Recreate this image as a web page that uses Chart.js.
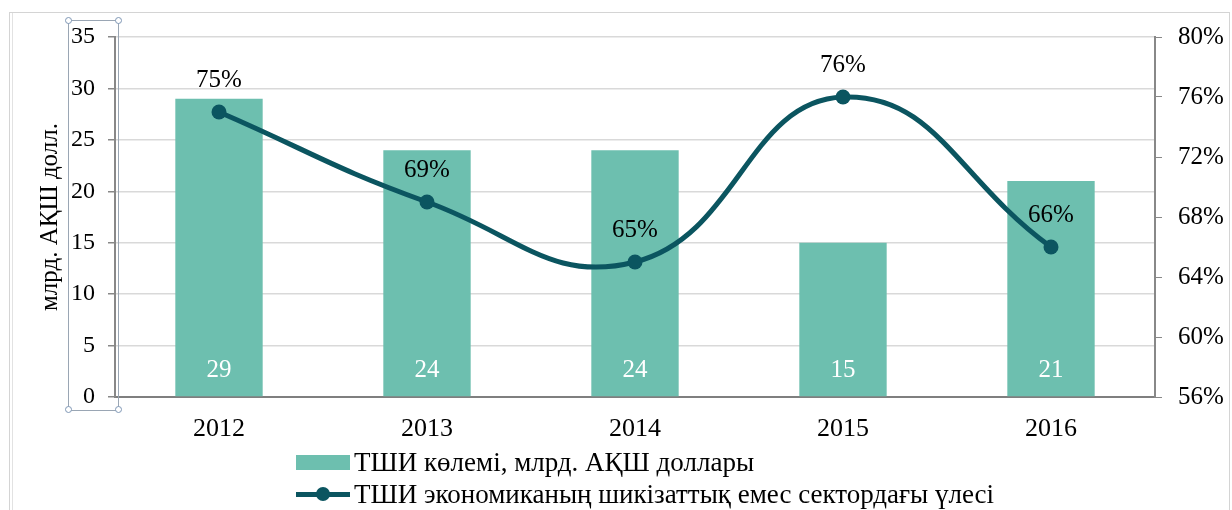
<!DOCTYPE html>
<html>
<head>
<meta charset="utf-8">
<script src="https://cdn.jsdelivr.net/npm/chart.js@4/dist/chart.umd.min.js"></script>
<style>
  html, body { margin: 0; padding: 0; background: #fff; }
  #wrap { position: relative; width: 1232px; height: 510px; overflow: hidden; font-family: "Liberation Serif", "DejaVu Serif", serif; }
  #c { position: absolute; left: 0; top: 0; }
  #frame { position: absolute; left: 9px; top: 12px; width: 1219px; height: 520px; border: 1px solid #d4d4d4; box-shadow: inset 2px 0 0 #fff, inset 3px 0 0 #e2e2e2; }
  #sel { position: absolute; left: 68px; top: 20px; width: 49px; height: 389px; border: 1px solid #9aa6b4; }
  .h { position: absolute; width: 5px; height: 5px; border: 1px solid #7f97b5; border-radius: 50%; background: #fff; }
  #legend { position: absolute; left: 296px; top: 446px; font-size: 27px; color: #000; line-height: 32px; }
  .row { display: flex; align-items: center; white-space: nowrap; height: 32px; }
  .sw { width: 54px; height: 15px; background: #6dbfaf; margin-right: 4px; }
  .ln { position: relative; width: 54px; height: 16px; margin-right: 4px; }
  .ln:before { content: ""; position: absolute; left: 0; right: 0; top: 6px; height: 5px; background: #0b5560; }
  .ln:after { content: ""; position: absolute; left: 20px; top: 1px; width: 14px; height: 14px; border-radius: 50%; background: #0b5560; }
</style>
</head>
<body>
<div id="wrap">
  <div id="frame"></div>
  <canvas id="c" width="1232" height="510"></canvas>
  <div id="sel"></div>
  <div class="h" style="left:65px;top:17px"></div>
  <div class="h" style="left:115px;top:17px"></div>
  <div class="h" style="left:65px;top:406px"></div>
  <div class="h" style="left:115px;top:406px"></div>
  <div id="legend">
    <div class="row"><div class="sw"></div><span id="lg0"></span></div>
    <div class="row"><div class="ln"></div><span id="lg1"></span></div>
  </div>
</div>
<script>
const categories = ["2012", "2013", "2014", "2015", "2016"];
const fdiVolume = [29, 24, 24, 15, 21];
const fdiShare = [75, 69, 65, 76, 66];
const seriesNames = ["ТШИ көлемі, млрд. АҚШ доллары", "ТШИ экономиканың шикізаттық емес сектордағы үлесі"];
const leftAxisTitle = "млрд. АҚШ долл.";

document.getElementById("lg0").textContent = seriesNames[0];
document.getElementById("lg1").textContent = seriesNames[1];

const FONT = "Liberation Serif";
const barColor = "#6dbfaf";
const lineColor = "#0b5560";

const labelPlugin = {
  id: "valueLabels",
  afterDatasetsDraw(chart) {
    const ctx = chart.ctx;
    ctx.save();
    ctx.font = "25px '" + FONT + "'";
    ctx.textAlign = "center";
    ctx.textBaseline = "middle";
    const bars = chart.getDatasetMeta(0).data;
    const yScale = chart.scales.y;
    ctx.fillStyle = "#ffffff";
    bars.forEach((b, i) => {
      ctx.fillText(String(fdiVolume[i]), b.x, yScale.getPixelForValue(0) - 27);
    });
    const pts = chart.getDatasetMeta(1).data;
    ctx.fillStyle = "#000000";
    pts.forEach((p, i) => {
      ctx.fillText(fdiShare[i] + "%", p.x, p.y - 32);
    });
    ctx.restore();
  }
};

new Chart(document.getElementById("c"), {
  type: "bar",
  data: {
    labels: categories,
    datasets: [
      {
        type: "bar",
        label: seriesNames[0],
        data: fdiVolume,
        backgroundColor: barColor,
        yAxisID: "y",
        barPercentage: 0.42,
        categoryPercentage: 1,
        order: 2
      },
      {
        type: "line",
        label: seriesNames[1],
        data: fdiShare,
        borderColor: lineColor,
        backgroundColor: lineColor,
        borderWidth: 5,
        pointRadius: 7.5,
        pointBackgroundColor: lineColor,
        pointBorderWidth: 0,
        tension: 0.45,
        yAxisID: "y1",
        order: 1
      }
    ]
  },
  options: {
    responsive: false,
    animation: false,
    devicePixelRatio: 1,
    layout: { padding: { left: 10, right: 0, top: 37, bottom: 63 } },
    plugins: {
      legend: { display: false },
      tooltip: { enabled: false }
    },
    scales: {
      x: {
        offset: true,
        grid: { display: false, drawTicks: false },
        border: { color: "#7f7f7f", width: 2 },
        ticks: { color: "#000", font: { family: FONT, size: 26 }, padding: 17 },
        afterFit(s) { s.height = 50; }
      },
      y: {
        position: "left",
        min: 0, max: 35,
        ticks: { stepSize: 5, color: "#000", font: { family: FONT, size: 24 }, padding: 13 },
        grid: { color: "#d9d9d9", lineWidth: 1.5, tickLength: 7, tickColor: "#888" },
        border: { color: "#888", width: 2 },
        title: { display: true, text: leftAxisTitle, color: "#000", font: { family: FONT, size: 25 }, padding: { top: 25, bottom: 0 } },
        afterFit(s) { s.width = 105; }
      },
      y1: {
        position: "right",
        min: 56, max: 80,
        ticks: { stepSize: 4, color: "#000", font: { family: FONT, size: 25 }, padding: 16, callback: v => v + "%" },
        grid: { drawOnChartArea: false, tickLength: 7, tickColor: "#888" },
        border: { color: "#888", width: 2 },
        afterFit(s) { s.width = 77; }
      }
    }
  },
  plugins: [labelPlugin]
});
</script>
</body>
</html>
